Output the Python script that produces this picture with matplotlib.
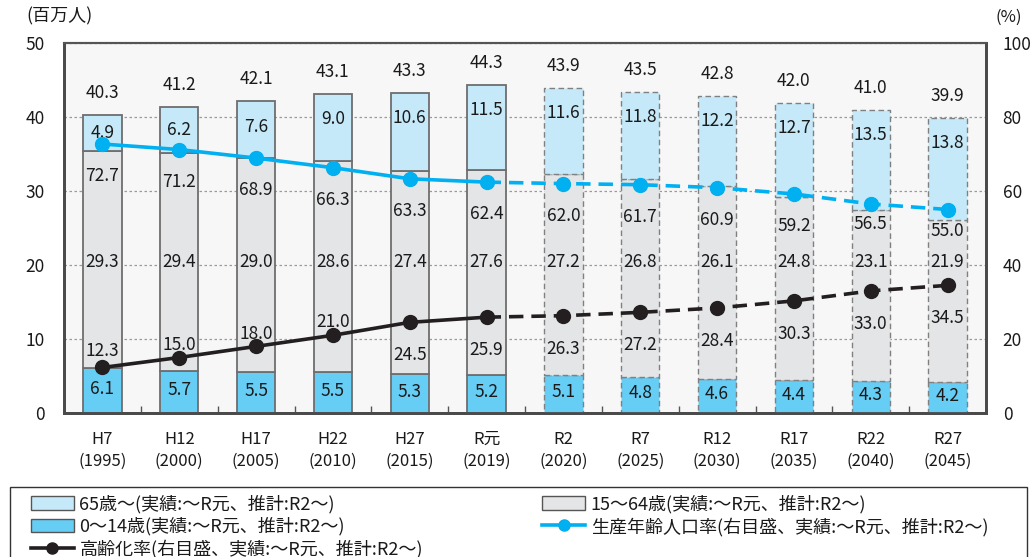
import matplotlib
matplotlib.use("Agg")
import matplotlib.pyplot as plt
from matplotlib.patches import Patch, Rectangle
from matplotlib.lines import Line2D

plt.rcParams['font.family'] = ['Noto Sans CJK JP', 'DejaVu Sans']

# ---- data -------------------------------------------------------------
periods = ['H7\n(1995)', 'H12\n(2000)', 'H17\n(2005)', 'H22\n(2010)', 'H27\n(2015)',
           'R元\n(2019)', 'R2\n(2020)', 'R7\n(2025)', 'R12\n(2030)', 'R17\n(2035)',
           'R22\n(2040)', 'R27\n(2045)']
age65_plus = [4.9, 6.2, 7.6, 9.0, 10.6, 11.5, 11.6, 11.8, 12.2, 12.7, 13.5, 13.8]
age15_64 = [29.3, 29.4, 29.0, 28.6, 27.4, 27.6, 27.2, 26.8, 26.1, 24.8, 23.1, 21.9]
age0_14 = [6.1, 5.7, 5.5, 5.5, 5.3, 5.2, 5.1, 4.8, 4.6, 4.4, 4.3, 4.2]
totals = [40.3, 41.2, 42.1, 43.1, 43.3, 44.3, 43.9, 43.5, 42.8, 42.0, 41.0, 39.9]
working_age_rate = [72.7, 71.2, 68.9, 66.3, 63.3, 62.4, 62.0, 61.7, 60.9, 59.2, 56.5, 55.0]
aging_rate = [12.3, 15.0, 18.0, 21.0, 24.5, 25.9, 26.3, 27.2, 28.4, 30.3, 33.0, 34.5]
n_actual = 6  # H7 .. R元 are actual figures, the rest are projections

legend_labels = ['65歳～(実績:～R元、推計:R2～)', '15～64歳(実績:～R元、推計:R2～)',
                 '0～14歳(実績:～R元、推計:R2～)', '生産年齢人口率(右目盛、実績:～R元、推計:R2～)',
                 '高齢化率(右目盛、実績:～R元、推計:R2～)']

# ---- style ------------------------------------------------------------
C65 = '#c5e9f9'
C1564 = '#e4e5e7'
C014 = '#66cdf5'
CWORK = '#00b0f0'
CAGE = '#231f20'
EDGE = '#6e6e6e'
TXT = '#1a1a1a'
FS = 12.5

fig = plt.figure(figsize=(10.34, 5.57), dpi=100)
W, H = 1034, 557
L, R, T, B = 64, 986, 43, 413
ax = fig.add_axes([L / W, 1 - B / H, (R - L) / W, (B - T) / H])
ax2 = ax.twinx()

x = list(range(len(periods)))
bw = 0.5

ax.set_facecolor('#f7f7f7')
ax2.patch.set_visible(False)

for i in x:
    proj = i >= n_actual
    ls = (0, (4, 2.5)) if proj else '-'
    lw = 1.0 if proj else 1.3
    ec = '#808080' if proj else EDGE
    b0 = 0
    for val, col in ((age0_14[i], C014), (age15_64[i], C1564), (age65_plus[i], C65)):
        ax.bar(i, val, bw, bottom=b0, color=col, edgecolor=ec, linewidth=lw,
               linestyle=ls, zorder=3)
        b0 += val
    top = b0
    # total above the bar
    ax.annotate(f'{totals[i]:.1f}', (i, top), xytext=(0, 22), textcoords='offset pixels',
                ha='center', va='center', fontsize=FS, color=TXT, zorder=6)
    # 65+ label, toward the top of its segment
    y65 = top - min(age65_plus[i] / 2, 3.4)
    ax.text(i, y65, f'{age65_plus[i]:.1f}', ha='center', va='center', fontsize=FS,
            color=TXT, zorder=6)
    # 15-64 label
    ax.text(i, 20.4, f'{age15_64[i]:.1f}', ha='center', va='center', fontsize=FS,
            color=TXT, zorder=6)
    # 0-14 label
    ax.text(i, age0_14[i] / 2 + 0.25, f'{age0_14[i]:.1f}', ha='center', va='center',
            fontsize=FS, color=TXT, zorder=6)

ax.set_xlim(-0.5, len(periods) - 0.5)
ax.set_ylim(0, 50)
ax.set_yticks([0, 10, 20, 30, 40, 50])
ax.yaxis.grid(True, color='#9a9a9a', linestyle=(0, (2, 2)), linewidth=0.9)
ax.set_axisbelow(True)
ax.tick_params(axis='y', length=0, pad=14, labelsize=FS, labelcolor=TXT)

# category labels centred, ticks on category boundaries
ax.set_xticks(x)
ax.set_xticklabels(periods, fontsize=12, color=TXT, linespacing=1.4)
ax.tick_params(axis='x', which='major', length=0, pad=13)
ax.set_xticks([i + 0.5 for i in x[:-1]], minor=True)
ax.tick_params(axis='x', which='minor', direction='in', length=5, width=1, color='#555555')

ax2.set_ylim(0, 100)
ax2.set_yticks([0, 20, 40, 60, 80, 100])
ax2.tick_params(axis='y', length=0, pad=12, labelsize=FS, labelcolor=TXT)

for a in (ax, ax2):
    for side in ('left', 'right', 'bottom'):
        a.spines[side].set_color('#4a4a4a')
        a.spines[side].set_linewidth(2)
    a.spines['top'].set_color('#555555')
    a.spines['top'].set_linewidth(1.5)

# ---- rate lines (right axis) -------------------------------------------
k = n_actual
for vals, col in ((working_age_rate, CWORK), (aging_rate, CAGE)):
    ax2.plot(x[:k], vals[:k], color=col, lw=2.6, zorder=5, solid_capstyle='butt')
    ax2.plot(x[k - 1:], vals[k - 1:], color=col, lw=2.6, linestyle=(0, (4, 2.2)), zorder=5)
    ax2.plot(x, vals, linestyle='none', marker='o', markersize=10, color=col, zorder=6)

work_off = [-32] * 10 + [-20, -22]
for i, v in enumerate(working_age_rate):
    ax2.annotate(f'{v:.1f}', (i, v), xytext=(0, work_off[i]), textcoords='offset pixels',
                 ha='center', va='center', fontsize=FS, color=TXT, zorder=7)

age_off = [16, 13, 12, 13] + [-33] * 8
for i, v in enumerate(aging_rate):
    ax2.annotate(f'{v:.1f}', (i, v), xytext=(0, age_off[i]), textcoords='offset pixels',
                 ha='center', va='center', fontsize=FS, color=TXT, zorder=7)

# unit labels
fig.text(26 / W, 1 - 16 / H, '(百万人)', fontsize=13, color=TXT, ha='left', va='center')
fig.text(1022 / W, 1 - 17 / H, '(%)', fontsize=12, color=TXT, ha='right', va='center')

# ---- legend -------------------------------------------------------------
fig.patches.append(Rectangle((10 / W, -0.05), 1017 / W, 0.05 + (H - 487) / H,
                             transform=fig.transFigure, fill=False,
                             edgecolor='#333333', linewidth=1.0))
h65 = Patch(facecolor=C65, edgecolor='#555555', linewidth=1)
h1564 = Patch(facecolor=C1564, edgecolor='#555555', linewidth=1)
h014 = Patch(facecolor=C014, edgecolor='#555555', linewidth=1)
hwork = Line2D([], [], color=CWORK, lw=2.6, marker='o', markersize=8)
hage = Line2D([], [], color=CAGE, lw=2.6, marker='o', markersize=8)
handles = [h65, h014, hage, h1564, hwork]
labels = [legend_labels[0], legend_labels[2], legend_labels[4], legend_labels[1], legend_labels[3]]
fig.legend(handles, labels, loc='upper left', bbox_to_anchor=(18 / W, 1 - 482 / H),
           ncol=2, frameon=False, fontsize=13, handlelength=2.4, handleheight=0.8,
           handletextpad=0.3, labelspacing=0.22, columnspacing=6.6, borderpad=0.2,
           labelcolor=TXT)

fig.savefig('out.png', dpi=100)
